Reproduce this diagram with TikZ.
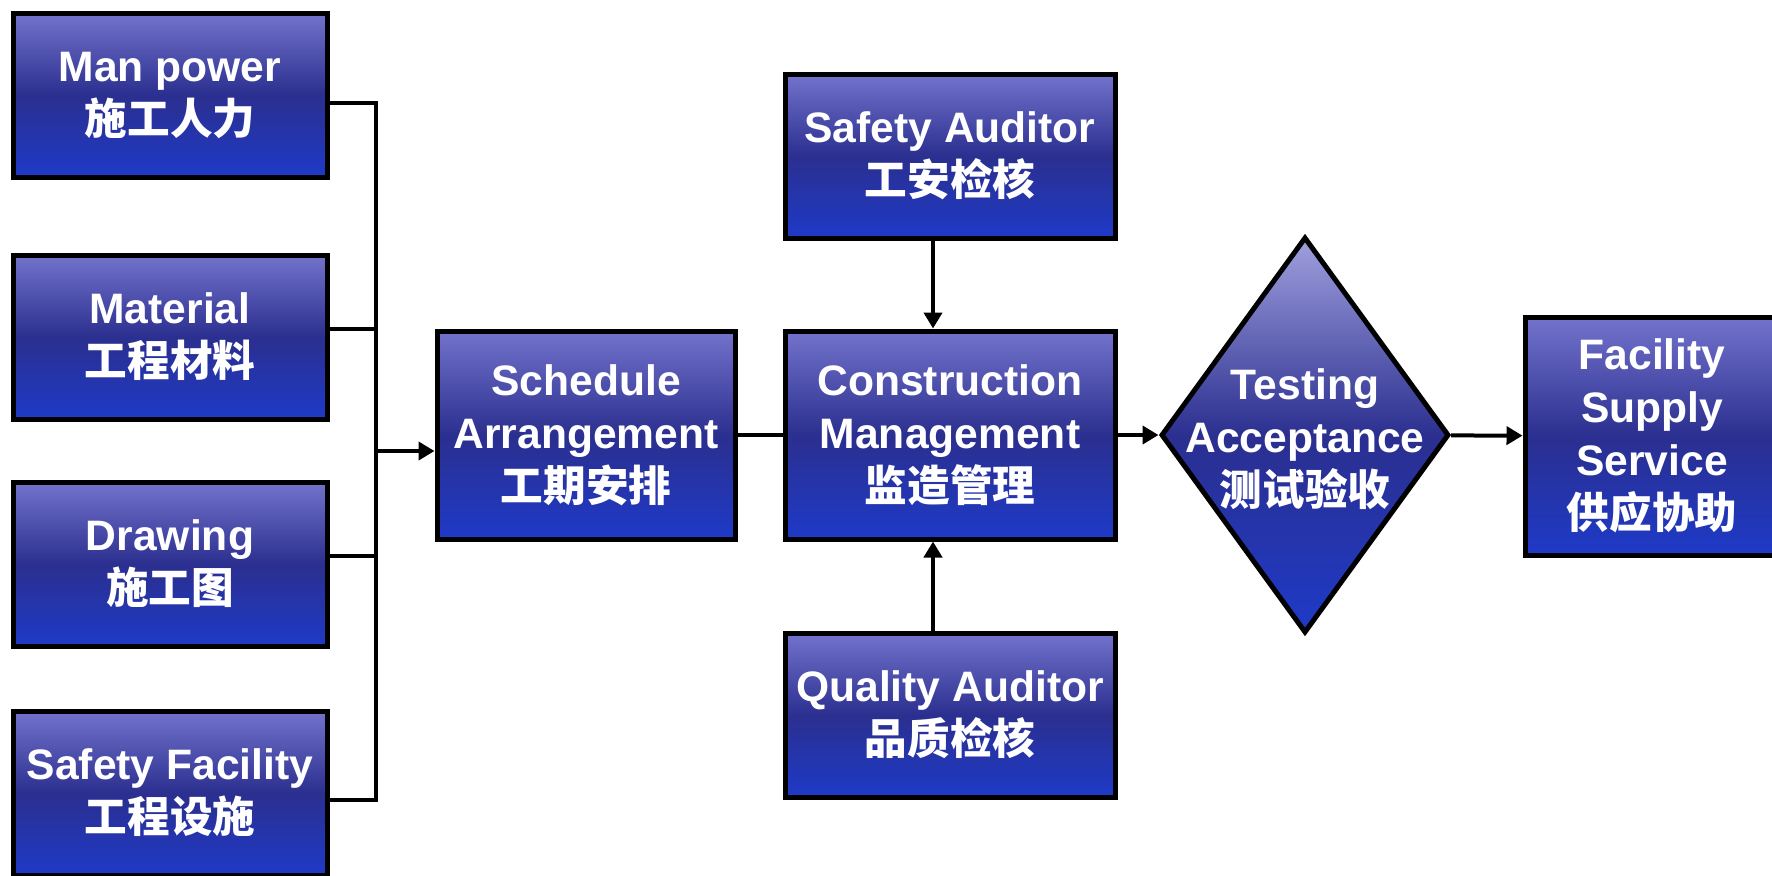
\documentclass[tikz,border=0pt]{standalone}
\usepackage{fontspec}
\setmainfont{Liberation Sans}
\newfontfamily\cjk{Noto Sans CJK SC}
\usetikzlibrary{shapes.geometric,arrows.meta}
\definecolor{boxtop}{RGB}{115,115,204}
\definecolor{boxmid}{RGB}{43,47,143}
\definecolor{boxbot}{RGB}{30,58,200}
\definecolor{tiptop}{RGB}{160,160,222}

\begin{document}
\begin{tikzpicture}[x=0.5pt, y=-0.5pt,
    box/.style={draw=black, line width=2.5pt, top color=boxtop, bottom color=boxbot, middle color=boxmid,
        text=white, align=center, inner sep=0pt, font=\bfseries\fontsize{21.3}{26.5}\selectfont},
    inbox/.style={box, minimum width=157pt, minimum height=82pt},
    audit/.style={box, minimum width=165pt, minimum height=82pt},
    decision/.style={box, diamond, top color=tiptop, bottom color=boxbot, middle color=boxmid,
        minimum width=144pt, minimum height=198pt},
    label/.style={text=white, align=center, font=\bfseries\fontsize{21.3}{26.5}\selectfont},
    line/.style={draw=black, line width=2pt},
    arrow/.style={line, -{Triangle[length=8pt,width=9pt]}}]

    \useasboundingbox (0,0) rectangle (1772,875);

    \draw(170,95) node[inbox] (manpower) {Man power\\{\cjk 施工人力}};
    \draw(170,337) node[inbox] (material) {Material\\{\cjk 工程材料}};
    \draw(170,564) node[inbox] (drawing) {Drawing\\{\cjk 施工图}};
    \draw(170,793) node[inbox] (safetyfac) {Safety Facility\\{\cjk 工程设施}};

    \draw(586,435) node[box, minimum width=149pt, minimum height=104pt] (schedule) {Schedule\\Arrangement\\{\cjk 工期安排}};
    \draw(950,435) node[box, minimum width=165pt, minimum height=104pt] (construction) {Construction\\Management\\{\cjk 监造管理}};
    \draw(950,156) node[audit] (safetyaud) {Safety Auditor\\{\cjk 工安检核}};
    \draw(950,715) node[audit] (qualityaud) {Quality Auditor\\{\cjk 品质检核}};

    \draw(1305,435) node[decision] (testing) {};
    \draw(1305,439) node[label] (testingtext) {Testing\\Acceptance\\{\cjk 测试验收}};
    \draw(1652,436) node[box, minimum width=127pt, minimum height=119pt] (facility) {Facility\\Supply\\Service\\{\cjk 供应协助}};

    % inputs join on one bus
    \coordinate (bus) at (376,451);
    \draw[line] ([yshift=-4pt]manpower.east) -| (bus);
    \draw[line] ([yshift=4pt]material.east) -| (bus);
    \draw[line] ([yshift=4pt]drawing.east) -| (bus);
    \draw[line] ([yshift=-3.5pt]safetyfac.east) -| (bus);
    \draw[arrow] (bus) -- (schedule.west |- bus);

    \draw[line] (schedule) -- (construction);
    \draw[arrow] ([xshift=-8.5pt]safetyaud.south) -- ([xshift=-8.5pt]construction.north);
    \draw[arrow] ([xshift=-8.5pt]qualityaud.north) -- ([xshift=-8.5pt]construction.south);
    \draw[arrow] (construction) -- (testing);
    \draw[arrow] (testing) -- (facility);

\end{tikzpicture}
\end{document}
